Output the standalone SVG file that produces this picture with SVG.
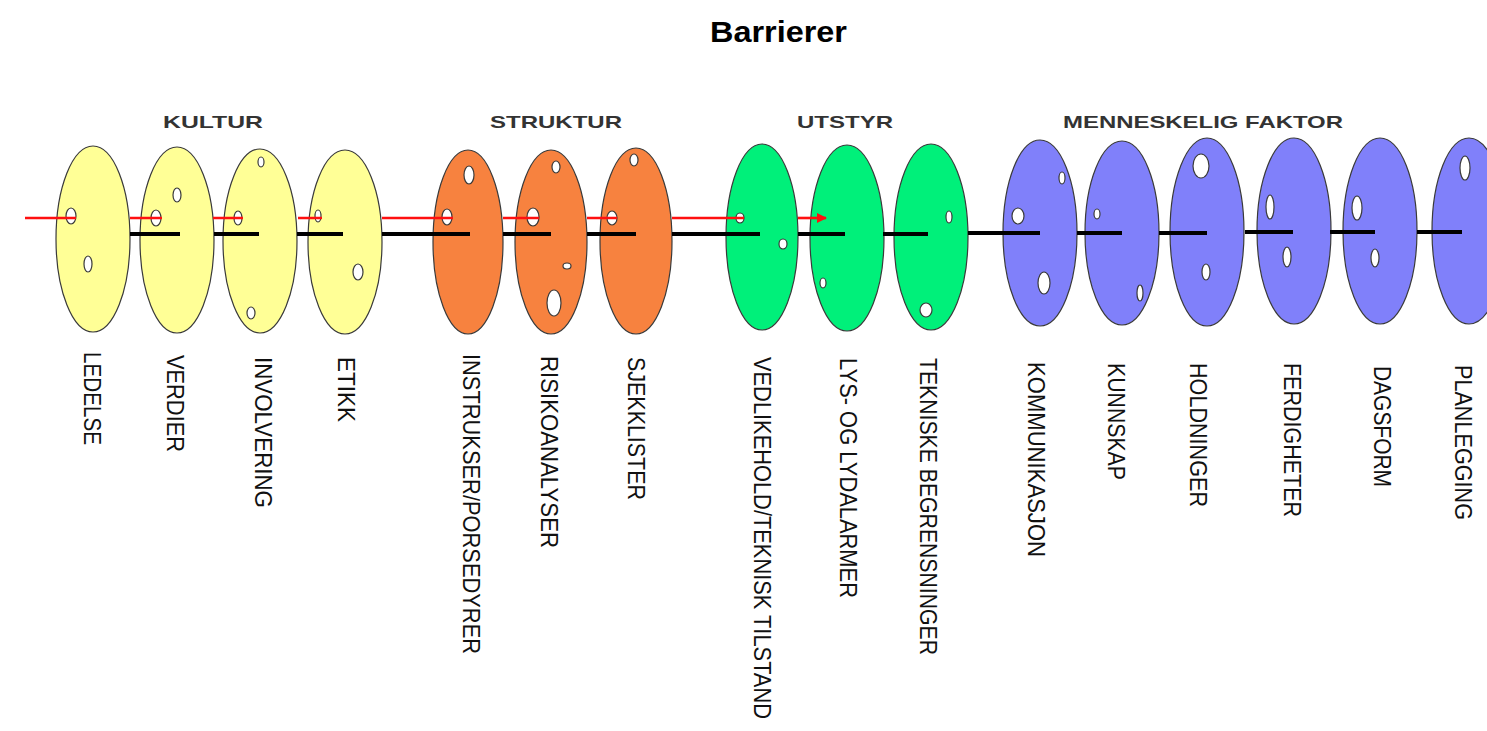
<svg xmlns="http://www.w3.org/2000/svg" width="1487" height="731" viewBox="0 0 1487 731">
<defs>
<style>
.disc{fill-rule:evenodd;stroke:#3a3a3a;stroke-width:1.2}
.y{fill:#ffff96}
.o{fill:#f7823f}
.g{fill:#00f07a}
.b{fill:#8080fa}
.blk{stroke:#000;stroke-width:4;fill:none}
.red{stroke:#ff1010;stroke-width:2.6;fill:none}
.lab{font-family:"Liberation Sans",Arial,sans-serif;font-size:24px;fill:#111}
.grp{font-family:"Liberation Sans",Arial,sans-serif;font-size:17px;font-weight:bold;fill:#333}
.title{font-family:"Liberation Sans",Arial,sans-serif;font-size:30px;font-weight:bold;fill:#000}
</style>
<marker id="arr" markerUnits="userSpaceOnUse" markerWidth="12" markerHeight="12" refX="9" refY="5" orient="auto">
<path d="M0,0 L10,5 L0,10 Z" fill="#ff1010"/>
</marker>
</defs>
<rect width="1487" height="731" fill="#fff"/>
<text class="title" x="710" y="42" textLength="137" lengthAdjust="spacingAndGlyphs">Barrierer</text>
<g id="groups">
<text class="grp" x="163" y="128" textLength="100" lengthAdjust="spacingAndGlyphs">KULTUR</text>
<text class="grp" x="490" y="128" textLength="132" lengthAdjust="spacingAndGlyphs">STRUKTUR</text>
<text class="grp" x="797" y="128" textLength="96" lengthAdjust="spacingAndGlyphs">UTSTYR</text>
<text class="grp" x="1063" y="128" textLength="280" lengthAdjust="spacingAndGlyphs">MENNESKELIG FAKTOR</text>
</g>
<g id="n-ledelse"><path class="disc y" d="M56 239a37 93 0 1 0 74 0a37 93 0 1 0-74 0Z M66 216a5 8 0 1 0 10 0a5 8 0 1 0-10 0Z M84 264a4 8 0 1 0 8 0a4 8 0 1 0-8 0Z"/>
<text class="lab" transform="translate(84,352) rotate(90)" textLength="93" lengthAdjust="spacingAndGlyphs">LEDELSE</text></g>
<g id="n-verdier"><path class="disc y" d="M140 240a37 93 0 1 0 74 0a37 93 0 1 0-74 0Z M151 218a5 8 0 1 0 10 0a5 8 0 1 0-10 0Z M173 195a4 7 0 1 0 8 0a4 7 0 1 0-8 0Z"/>
<text class="lab" transform="translate(167,355) rotate(90)" textLength="97" lengthAdjust="spacingAndGlyphs">VERDIER</text></g>
<g id="n-involvering"><path class="disc y" d="M223 241a37 92 0 1 0 74 0a37 92 0 1 0-74 0Z M234 218a4 7 0 1 0 8 0a4 7 0 1 0-8 0Z M258 162a3 5 0 1 0 6 0a3 5 0 1 0-6 0Z M247 313a4 6 0 1 0 8 0a4 6 0 1 0-8 0Z"/>
<text class="lab" transform="translate(255,357) rotate(90)" textLength="151" lengthAdjust="spacingAndGlyphs">INVOLVERING</text></g>
<g id="n-etikk"><path class="disc y" d="M308 242a37 92 0 1 0 74 0a37 92 0 1 0-74 0Z M315 216a3 6 0 1 0 6 0a3 6 0 1 0-6 0Z M353 272a5 8 0 1 0 10 0a5 8 0 1 0-10 0Z"/>
<text class="lab" transform="translate(338,357) rotate(90)" textLength="65" lengthAdjust="spacingAndGlyphs">ETIKK</text></g>
<g id="n-instrukser"><path class="disc o" d="M433 242a35 92 0 1 0 70 0a35 92 0 1 0-70 0Z M442 217a5 8 0 1 0 10 0a5 8 0 1 0-10 0Z M464 175a5 9 0 1 0 10 0a5 9 0 1 0-10 0Z"/>
<text class="lab" transform="translate(463,354) rotate(90)" textLength="300" lengthAdjust="spacingAndGlyphs">INSTRUKSER/PORSEDYRER</text></g>
<g id="n-risikoanalyser"><path class="disc o" d="M515 242a36 92 0 1 0 72 0a36 92 0 1 0-72 0Z M527 217a6 9 0 1 0 12 0a6 9 0 1 0-12 0Z M552 167a4 6 0 1 0 8 0a4 6 0 1 0-8 0Z M563 266a4 3 0 1 0 8 0a4 3 0 1 0-8 0Z M547 303a7 13 0 1 0 14 0a7 13 0 1 0-14 0Z"/>
<text class="lab" transform="translate(541,356) rotate(90)" textLength="192" lengthAdjust="spacingAndGlyphs">RISIKOANALYSER</text></g>
<g id="n-sjekklister"><path class="disc o" d="M600 241a36 93 0 1 0 72 0a36 93 0 1 0-72 0Z M607 218a5 7 0 1 0 10 0a5 7 0 1 0-10 0Z M630 160a4 6 0 1 0 8 0a4 6 0 1 0-8 0Z"/>
<text class="lab" transform="translate(628,357) rotate(90)" textLength="143" lengthAdjust="spacingAndGlyphs">SJEKKLISTER</text></g>
<g id="n-vedlikehold"><path class="disc g" d="M726 237a36 93 0 1 0 72 0a36 93 0 1 0-72 0Z M736 218a4 5 0 1 0 8 0a4 5 0 1 0-8 0Z M779 244a4 5 0 1 0 8 0a4 5 0 1 0-8 0Z"/>
<text class="lab" transform="translate(754,357) rotate(90) scale(0.91,1)">VEDLIKEHOLD/TEKNISK TILSTAND</text></g>
<g id="n-lysalarmer"><path class="disc g" d="M810 238a37 93 0 1 0 74 0a37 93 0 1 0-74 0Z M820 283a3 5 0 1 0 6 0a3 5 0 1 0-6 0Z"/>
<text class="lab" transform="translate(840,358) rotate(90)" textLength="240" lengthAdjust="spacingAndGlyphs">LYS- OG LYDALARMER</text></g>
<g id="n-tekniske"><path class="disc g" d="M894 237a37 93 0 1 0 74 0a37 93 0 1 0-74 0Z M946 217a3 6 0 1 0 6 0a3 6 0 1 0-6 0Z M920 310a6 7 0 1 0 12 0a6 7 0 1 0-12 0Z"/>
<text class="lab" transform="translate(920,358) rotate(90)" textLength="297" lengthAdjust="spacingAndGlyphs">TEKNISKE BEGRENSNINGER</text></g>
<g id="n-kommunikasjon"><path class="disc b" d="M1003 233a37 93 0 1 0 74 0a37 93 0 1 0-74 0Z M1012 216a6 8 0 1 0 12 0a6 8 0 1 0-12 0Z M1059 178a3 6 0 1 0 6 0a3 6 0 1 0-6 0Z M1038 283a6 11 0 1 0 12 0a6 11 0 1 0-12 0Z"/>
<text class="lab" transform="translate(1028,362) rotate(90)" textLength="195" lengthAdjust="spacingAndGlyphs">KOMMUNIKASJON</text></g>
<g id="n-kunnskap"><path class="disc b" d="M1085 233a37 92 0 1 0 74 0a37 92 0 1 0-74 0Z M1094 214a3 5 0 1 0 6 0a3 5 0 1 0-6 0Z M1137 293a3 8 0 1 0 6 0a3 8 0 1 0-6 0Z"/>
<text class="lab" transform="translate(1108,363) rotate(90)" textLength="117" lengthAdjust="spacingAndGlyphs">KUNNSKAP</text></g>
<g id="n-holdninger"><path class="disc b" d="M1170 232a37 94 0 1 0 74 0a37 94 0 1 0-74 0Z M1193 166a8 12 0 1 0 16 0a8 12 0 1 0-16 0Z M1202 272a4 8 0 1 0 8 0a4 8 0 1 0-8 0Z"/>
<text class="lab" transform="translate(1190,363) rotate(90)" textLength="144" lengthAdjust="spacingAndGlyphs">HOLDNINGER</text></g>
<g id="n-ferdigheter"><path class="disc b" d="M1257 231a37 93 0 1 0 74 0a37 93 0 1 0-74 0Z M1266 207a4 12 0 1 0 8 0a4 12 0 1 0-8 0Z M1283 257a4 10 0 1 0 8 0a4 10 0 1 0-8 0Z"/>
<text class="lab" transform="translate(1284,363) rotate(90)" textLength="154" lengthAdjust="spacingAndGlyphs">FERDIGHETER</text></g>
<g id="n-dagsform"><path class="disc b" d="M1343 231a37 93 0 1 0 74 0a37 93 0 1 0-74 0Z M1352 208a5 12 0 1 0 10 0a5 12 0 1 0-10 0Z M1371 258a4 9 0 1 0 8 0a4 9 0 1 0-8 0Z"/>
<text class="lab" transform="translate(1374,366) rotate(90)" textLength="121" lengthAdjust="spacingAndGlyphs">DAGSFORM</text></g>
<g id="n-planlegging"><path class="disc b" d="M1432 231a37 93 0 1 0 74 0a37 93 0 1 0-74 0Z M1460 168a5 12 0 1 0 10 0a5 12 0 1 0-10 0Z"/>
<text class="lab" transform="translate(1455,365) rotate(90)" textLength="155" lengthAdjust="spacingAndGlyphs">PLANLEGGING</text></g>
<g id="connectors">
<path class="blk" d="M130 234H180 M214 234H259 M297 234H343 M382 234H470 M503 234H551 M587 234H636 M672 234H760 M798 234H845 M883 234H928 M968 233H1040 M1077 233H1122 M1159 233H1207 M1245 232H1293 M1330 232H1375 M1417 232H1462"/>
<path class="red" d="M25 218H76 M130 218H162 M213 218H243 M298 218H322 M382 218H453 M503 218H539 M587 218H617 M672 218H744"/>
<path class="red" d="M798 218H826" marker-end="url(#arr)"/>
</g>
</svg>
